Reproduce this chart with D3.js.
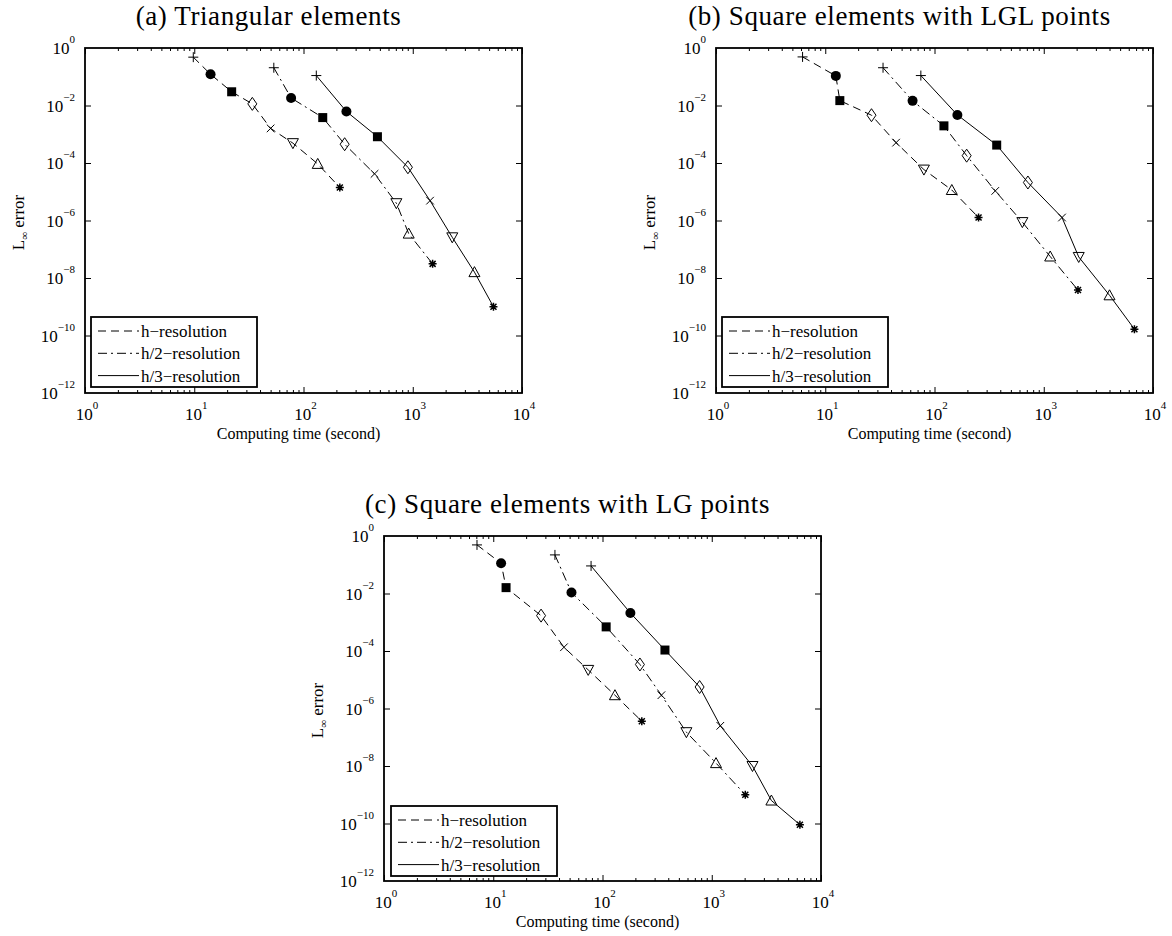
<!DOCTYPE html>
<html>
<head>
<meta charset="utf-8">
<script src="https://cdn.jsdelivr.net/npm/d3@7"></script>
<style>
  body { margin: 0; background: #fff; }
  svg text { font-family: "Liberation Serif", "Times New Roman", serif; fill: #000; }
</style>
</head>
<body>
<svg id="canvas" width="1172" height="936"></svg>
<script>
// series names and the marker used at each successive point
let seriesNames = ["h\u2212resolution", "h/2\u2212resolution", "h/3\u2212resolution"];
let markerOrder = ["plus", "circle", "square", "diamond", "cross", "triangleDown", "triangleUp", "asterisk"];

// tick labels
let xTickValues = [1, 10, 100, 1000, 10000];
let xTickExp = ["0", "1", "2", "3", "4"];
let yTickValues = [1, 1e-2, 1e-4, 1e-6, 1e-8, 1e-10, 1e-12];
let yTickExp = ["0", "\u22122", "\u22124", "\u22126", "\u22128", "\u221210", "\u221212"];

// (a) Triangular elements
let triTimeH = [9.8, 14.1, 22, 34, 50, 80, 135, 215];
let triErrH = [0.48, 0.122, 0.030, 0.0114, 1.6e-3, 4.9e-4, 9.3e-5, 1.4e-5];
let triTimeH2 = [53.5, 77, 150, 238, 447, 708, 918, 1520];
let triErrH2 = [0.206, 0.0183, 3.8e-3, 4.5e-4, 4.2e-5, 4.0e-6, 3.5e-7, 3.1e-8];
let triTimeH3 = [131, 247, 475, 903, 1440, 2300, 3670, 5480];
let triErrH3 = [0.11, 6.2e-3, 8.2e-4, 7.1e-5, 4.9e-6, 2.6e-7, 1.6e-8, 1.0e-9];

// (b) Square elements with LGL points
let lglTimeH = [6.2, 12.5, 13.6, 26.5, 44.5, 80, 144, 253];
let lglErrH = [0.49, 0.107, 0.0148, 4.6e-3, 5.1e-4, 5.9e-5, 1.15e-5, 1.27e-6];
let lglTimeH2 = [33.8, 63, 122, 197, 360, 637, 1145, 2057];
let lglErrH2 = [0.206, 0.0145, 1.96e-3, 1.8e-4, 1.07e-5, 8.8e-7, 5.6e-8, 3.8e-9];
let lglTimeH3 = [75, 162, 371, 716, 1470, 2090, 4000, 6760];
let lglErrH3 = [0.11, 4.7e-3, 4.2e-4, 2.1e-5, 1.27e-6, 5.4e-8, 2.5e-9, 1.66e-10];

// (c) Square elements with LG points
let lgTimeH = [7.1, 11.8, 13.1, 27.4, 44.4, 74, 130, 229];
let lgErrH = [0.49, 0.113, 0.016, 1.7e-3, 1.35e-4, 2.2e-5, 2.9e-6, 3.6e-7];
let lgTimeH2 = [36.7, 52, 108, 220, 346, 586, 1094, 2028];
let lgErrH2 = [0.22, 0.0108, 6.9e-4, 3.4e-5, 2.9e-6, 1.5e-7, 1.26e-8, 1.0e-9];
let lgTimeH3 = [78.6, 180, 373, 774, 1198, 2360, 3514, 6410];
let lgErrH3 = [0.091, 2.1e-3, 1.08e-4, 5.6e-6, 2.5e-7, 1.0e-8, 6.3e-10, 9.1e-11];

let plotW = 437;
let plotH = 345;
let dashes = ["8,5", "9,4,2,4", null];

let canvas = d3.select("#canvas");

let markerPath = {
  plus: "M-5,0H5M0,-5V5",
  cross: "M-3.8,-3.8L3.8,3.8M-3.8,3.8L3.8,-3.8",
  asterisk: "M-4,0H4M0,-4V4M-3,-3L3,3M-3,3L3,-3",
  diamond: "M0,-6.5L4.5,0L0,6.5L-4.5,0Z",
  triangleDown: "M-5.5,-4.5H5.5L0,5.5Z",
  triangleUp: "M-5.5,4.5H5.5L0,-5.5Z"
};

let drawMarker = (g, type, cx, cy) => {
  if (type === "circle") {
    g.append("circle").attr("cx", cx).attr("cy", cy).attr("r", 5).attr("fill", "#000");
  } else if (type === "square") {
    g.append("rect").attr("x", cx - 4.5).attr("y", cy - 4.5)
      .attr("width", 9).attr("height", 9).attr("fill", "#000");
  } else {
    g.append("path").attr("d", markerPath[type])
      .attr("transform", `translate(${cx},${cy})`)
      .attr("fill", "none").attr("stroke", "#000")
      .attr("stroke-width", type === "asterisk" ? 1.5 : 1);
  }
};

let drawPanel = (p) => {
  let g = canvas.append("g").attr("transform", `translate(${p.left},${p.top})`);

  let x = d3.scaleLog().domain([1, 1e4]).range([0, plotW]);
  let y = d3.scaleLog().domain([1e-12, 1]).range([plotH, 0]);

  let minorX = x.ticks().filter((t) => !xTickValues.includes(t));

  // ticks, pointing inwards on all four sides
  let tickAxis = (axis, values, size, tf) => {
    g.append("g").attr("transform", tf)
      .call(axis.tickValues(values).tickSizeInner(size).tickSizeOuter(0).tickFormat(""))
      .call((a) => a.select(".domain").remove())
      .selectAll("line").attr("stroke", "#000").attr("stroke-width", 1);
  };
  tickAxis(d3.axisBottom(x), xTickValues, -6, `translate(0,${plotH})`);
  tickAxis(d3.axisBottom(x), minorX, -3, `translate(0,${plotH})`);
  tickAxis(d3.axisTop(x), xTickValues, -6, "translate(0,0)");
  tickAxis(d3.axisTop(x), minorX, -3, "translate(0,0)");
  tickAxis(d3.axisLeft(y), yTickValues.slice(1, -1), -6, "translate(0,0)");
  tickAxis(d3.axisRight(y), yTickValues.slice(1, -1), -6, `translate(${plotW},0)`);

  g.append("rect").attr("width", plotW).attr("height", plotH)
    .attr("fill", "none").attr("stroke", "#000").attr("stroke-width", 1.8);

  // tick labels 10^k
  let xl = g.selectAll(".xlab").data(xTickValues).join("text")
    .attr("class", "xlab")
    .attr("x", (d) => x(d) + 2)
    .attr("y", plotH + 27)
    .attr("text-anchor", "middle")
    .attr("font-size", 17);
  xl.append("tspan").text("10");
  xl.append("tspan").attr("dy", -11).attr("font-size", 11).text((d, i) => xTickExp[i]);

  let yl = g.selectAll(".ylab").data(yTickValues).join("text")
    .attr("class", "ylab")
    .attr("x", -10)
    .attr("y", (d) => y(d) + 6)
    .attr("text-anchor", "end")
    .attr("font-size", 17);
  yl.append("tspan").text("10");
  yl.append("tspan").attr("dy", -11).attr("font-size", 11).text((d, i) => yTickExp[i]);

  // axis titles
  g.append("text")
    .attr("x", plotW / 2 - 5)
    .attr("y", plotH + 46)
    .attr("text-anchor", "middle")
    .attr("font-size", 16)
    .text("Computing time (second)");

  let yt = g.append("text")
    .attr("transform", `translate(-61,${plotH / 2 + 2}) rotate(-90)`)
    .attr("text-anchor", "middle")
    .attr("font-size", 17);
  yt.append("tspan").text("L");
  yt.append("tspan").attr("font-size", 11).attr("dy", 4).text("\u221e");
  yt.append("tspan").attr("dy", -4).text(" error");

  // panel title
  canvas.append("text")
    .attr("x", p.left + plotW / 2 - 35)
    .attr("y", p.top - 23)
    .attr("text-anchor", "middle")
    .attr("font-size", 27)
    .attr("letter-spacing", 0.6)
    .text(p.title);

  // series
  let line = d3.line().x((d) => x(d[0])).y((d) => y(d[1]));
  p.series.forEach((s, i) => {
    let pts = d3.zip(s.t, s.e);
    g.append("path").datum(pts)
      .attr("d", line)
      .attr("fill", "none")
      .attr("stroke", "#000")
      .attr("stroke-width", 1)
      .attr("stroke-dasharray", dashes[i]);
    pts.forEach((d, j) => drawMarker(g, markerOrder[j], x(d[0]), y(d[1])));
  });

  // legend
  let lg = g.append("g").attr("transform", `translate(${p.legX},${p.legY})`);
  lg.append("rect").attr("width", 166).attr("height", 70)
    .attr("fill", "#fff").attr("stroke", "#000").attr("stroke-width", 1.8);
  seriesNames.forEach((name, i) => {
    let cy = 14 + i * 22.3;
    lg.append("line").attr("x1", 7).attr("x2", 48).attr("y1", cy).attr("y2", cy)
      .attr("stroke", "#000").attr("stroke-width", 1)
      .attr("stroke-dasharray", dashes[i]);
    lg.append("text").attr("x", 50).attr("y", cy + 6).attr("font-size", 17).text(name);
  });
};

drawPanel({
  left: 85, top: 48, title: "(a) Triangular elements", legX: 6, legY: 269,
  series: [
    { t: triTimeH, e: triErrH },
    { t: triTimeH2, e: triErrH2 },
    { t: triTimeH3, e: triErrH3 }
  ]
});

drawPanel({
  left: 716, top: 48, title: "(b) Square elements with LGL points", legX: 6, legY: 269,
  series: [
    { t: lglTimeH, e: lglErrH },
    { t: lglTimeH2, e: lglErrH2 },
    { t: lglTimeH3, e: lglErrH3 }
  ]
});

drawPanel({
  left: 384, top: 536, title: "(c) Square elements with LG points", legX: 7, legY: 270,
  series: [
    { t: lgTimeH, e: lgErrH },
    { t: lgTimeH2, e: lgErrH2 },
    { t: lgTimeH3, e: lgErrH3 }
  ]
});
</script>
</body>
</html>
